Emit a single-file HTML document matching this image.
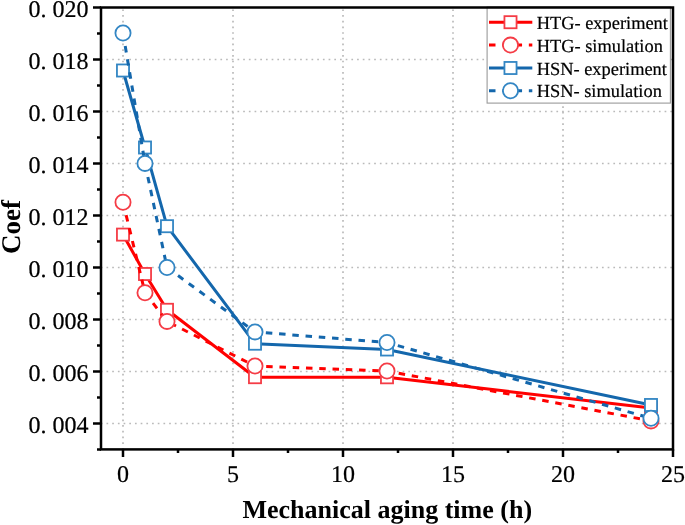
<!DOCTYPE html>
<html><head><meta charset="utf-8"><style>
html,body{margin:0;padding:0;background:#fff;width:685px;height:525px;overflow:hidden}
svg{display:block;text-rendering:geometricPrecision;filter:blur(0.4px)}
text{font-family:"Liberation Serif",serif}
</style></head><body>
<svg width="685" height="525" viewBox="0 0 685 525">
<rect x="0" y="0" width="685" height="525" fill="#fff"/>
<g stroke="#bababa" stroke-width="1.7" stroke-dasharray="1.7 3.995" fill="none"><line x1="100.8" y1="423.50" x2="673.0" y2="423.50"/><line x1="100.8" y1="371.50" x2="673.0" y2="371.50"/><line x1="100.8" y1="319.50" x2="673.0" y2="319.50"/><line x1="100.8" y1="267.50" x2="673.0" y2="267.50"/><line x1="100.8" y1="215.50" x2="673.0" y2="215.50"/><line x1="100.8" y1="163.50" x2="673.0" y2="163.50"/><line x1="100.8" y1="111.50" x2="673.0" y2="111.50"/><line x1="100.8" y1="59.50" x2="673.0" y2="59.50"/><line x1="123.00" y1="449.6" x2="123.00" y2="7.5"/><line x1="233.00" y1="449.6" x2="233.00" y2="7.5"/><line x1="343.00" y1="449.6" x2="343.00" y2="7.5"/><line x1="453.00" y1="449.6" x2="453.00" y2="7.5"/><line x1="563.00" y1="449.6" x2="563.00" y2="7.5"/></g>
<polyline points="123.00,234.60 145.00,274.00 167.00,309.80 255.00,377.20 387.00,377.30 651.00,408.00" fill="none" stroke="#ff0000" stroke-width="3.0" stroke-linejoin="round"/>
<g fill="#fff" stroke="#f53c46" stroke-width="1.8"><rect x="116.95" y="228.55" width="12.1" height="12.1"/><rect x="138.95" y="267.95" width="12.1" height="12.1"/><rect x="160.95" y="303.75" width="12.1" height="12.1"/><rect x="248.95" y="371.15" width="12.1" height="12.1"/><rect x="380.95" y="371.25" width="12.1" height="12.1"/><rect x="644.95" y="401.95" width="12.1" height="12.1"/></g>
<polyline points="123.00,202.30 145.00,292.70 167.00,321.40 255.00,366.00 387.00,371.00 651.00,420.90" fill="none" stroke="#ff0000" stroke-width="3.0" stroke-linejoin="round" stroke-dasharray="6.5 6.78"/>
<g fill="#fff" stroke="#f53c46" stroke-width="1.8"><circle cx="123.00" cy="202.30" r="7.6"/><circle cx="145.00" cy="292.70" r="7.6"/><circle cx="167.00" cy="321.40" r="7.6"/><circle cx="255.00" cy="366.00" r="7.6"/><circle cx="387.00" cy="371.00" r="7.6"/><circle cx="651.00" cy="420.90" r="7.6"/></g>
<polyline points="123.00,70.50 145.00,147.50 167.00,226.20 255.00,343.70 387.00,349.50 651.00,405.00" fill="none" stroke="#1467ac" stroke-width="3.0" stroke-linejoin="round"/>
<g fill="#fff" stroke="#3386c4" stroke-width="1.8"><rect x="116.95" y="64.45" width="12.1" height="12.1"/><rect x="138.95" y="141.45" width="12.1" height="12.1"/><rect x="160.95" y="220.15" width="12.1" height="12.1"/><rect x="248.95" y="337.65" width="12.1" height="12.1"/><rect x="380.95" y="343.45" width="12.1" height="12.1"/><rect x="644.95" y="398.95" width="12.1" height="12.1"/></g>
<polyline points="123.00,33.00 145.00,163.40 167.00,267.50 255.00,331.90 387.00,342.50 651.00,418.30" fill="none" stroke="#1467ac" stroke-width="3.0" stroke-linejoin="round" stroke-dasharray="6.5 6.78"/>
<g fill="#fff" stroke="#3386c4" stroke-width="1.8"><circle cx="123.00" cy="33.00" r="7.6"/><circle cx="145.00" cy="163.40" r="7.6"/><circle cx="167.00" cy="267.50" r="7.6"/><circle cx="255.00" cy="331.90" r="7.6"/><circle cx="387.00" cy="342.50" r="7.6"/><circle cx="651.00" cy="418.30" r="7.6"/></g>
<rect x="487.1" y="7" width="183.3" height="96.1" fill="#fff" stroke="#9a9a9a" stroke-width="1.1"/>
<line x1="489" y1="22.2" x2="532.3" y2="22.2" stroke="#ff0000" stroke-width="3.0"/>
<rect x="504.45" y="16.15" width="12.1" height="12.1" fill="#fff" stroke="#f53c46" stroke-width="1.8"/>
<text x="536.7" y="28.7" font-family="Liberation Serif" font-size="18.4" fill="#000" stroke="#000" stroke-width="0.2">HTG- experiment</text>
<line x1="489" y1="45.1" x2="532.3" y2="45.1" stroke="#ff0000" stroke-width="3.0" stroke-dasharray="6.5 6.78" stroke-dashoffset="0"/>
<circle cx="510.5" cy="45.1" r="7.6" fill="#fff" stroke="#f53c46" stroke-width="1.8"/>
<text x="536.7" y="51.6" font-family="Liberation Serif" font-size="18.4" fill="#000" stroke="#000" stroke-width="0.2">HTG- simulation</text>
<line x1="489" y1="68.0" x2="532.3" y2="68.0" stroke="#1467ac" stroke-width="3.0"/>
<rect x="504.45" y="61.95" width="12.1" height="12.1" fill="#fff" stroke="#3386c4" stroke-width="1.8"/>
<text x="536.7" y="74.5" font-family="Liberation Serif" font-size="18.4" fill="#000" stroke="#000" stroke-width="0.2">HSN- experiment</text>
<line x1="489" y1="90.8" x2="532.3" y2="90.8" stroke="#1467ac" stroke-width="3.0" stroke-dasharray="6.5 6.78" stroke-dashoffset="0"/>
<circle cx="510.5" cy="90.8" r="7.6" fill="#fff" stroke="#3386c4" stroke-width="1.8"/>
<text x="536.7" y="97.3" font-family="Liberation Serif" font-size="18.4" fill="#000" stroke="#000" stroke-width="0.2">HSN- simulation</text>
<g stroke="#000" stroke-width="2.5" fill="none" stroke-linecap="butt">
<rect x="101.0" y="7.5" width="572.0" height="441.9"/>
<line x1="93" y1="7.50" x2="101.0" y2="7.50"/>
<line x1="93" y1="59.50" x2="101.0" y2="59.50"/>
<line x1="93" y1="111.50" x2="101.0" y2="111.50"/>
<line x1="93" y1="163.50" x2="101.0" y2="163.50"/>
<line x1="93" y1="215.50" x2="101.0" y2="215.50"/>
<line x1="93" y1="267.50" x2="101.0" y2="267.50"/>
<line x1="93" y1="319.50" x2="101.0" y2="319.50"/>
<line x1="93" y1="371.50" x2="101.0" y2="371.50"/>
<line x1="93" y1="423.50" x2="101.0" y2="423.50"/>
<line x1="97" y1="33.50" x2="101.0" y2="33.50"/>
<line x1="97" y1="85.50" x2="101.0" y2="85.50"/>
<line x1="97" y1="137.50" x2="101.0" y2="137.50"/>
<line x1="97" y1="189.50" x2="101.0" y2="189.50"/>
<line x1="97" y1="241.50" x2="101.0" y2="241.50"/>
<line x1="97" y1="293.50" x2="101.0" y2="293.50"/>
<line x1="97" y1="345.50" x2="101.0" y2="345.50"/>
<line x1="97" y1="397.50" x2="101.0" y2="397.50"/>
<line x1="97" y1="449.50" x2="101.0" y2="449.50"/>
<line x1="123.00" y1="449.4" x2="123.00" y2="457"/>
<line x1="233.00" y1="449.4" x2="233.00" y2="457"/>
<line x1="343.00" y1="449.4" x2="343.00" y2="457"/>
<line x1="453.00" y1="449.4" x2="453.00" y2="457"/>
<line x1="563.00" y1="449.4" x2="563.00" y2="457"/>
<line x1="673.00" y1="449.4" x2="673.00" y2="457"/>
<line x1="178.00" y1="449.4" x2="178.00" y2="453"/>
<line x1="288.00" y1="449.4" x2="288.00" y2="453"/>
<line x1="398.00" y1="449.4" x2="398.00" y2="453"/>
<line x1="508.00" y1="449.4" x2="508.00" y2="453"/>
<line x1="618.00" y1="449.4" x2="618.00" y2="453"/>
</g>
<g font-family="Liberation Serif" font-size="24" fill="#000" stroke="#000" stroke-width="0.2">
<text x="88.4" y="16.7" text-anchor="end" xml:space="preserve">0. 020</text>
<text x="88.4" y="68.7" text-anchor="end" xml:space="preserve">0. 018</text>
<text x="88.4" y="120.7" text-anchor="end" xml:space="preserve">0. 016</text>
<text x="88.4" y="172.7" text-anchor="end" xml:space="preserve">0. 014</text>
<text x="88.4" y="224.7" text-anchor="end" xml:space="preserve">0. 012</text>
<text x="88.4" y="276.7" text-anchor="end" xml:space="preserve">0. 010</text>
<text x="88.4" y="328.7" text-anchor="end" xml:space="preserve">0. 008</text>
<text x="88.4" y="380.7" text-anchor="end" xml:space="preserve">0. 006</text>
<text x="88.4" y="432.7" text-anchor="end" xml:space="preserve">0. 004</text>
<text x="123.00" y="482.2" text-anchor="middle">0</text>
<text x="233.00" y="482.2" text-anchor="middle">5</text>
<text x="343.00" y="482.2" text-anchor="middle">10</text>
<text x="453.00" y="482.2" text-anchor="middle">15</text>
<text x="563.00" y="482.2" text-anchor="middle">20</text>
<text x="673.00" y="482.2" text-anchor="middle">25</text>
</g>
<text x="387.3" y="518.1" text-anchor="middle" font-family="Liberation Serif" font-weight="bold" font-size="26" fill="#000">Mechanical aging time (h)</text>
<text transform="translate(19.8,227) rotate(-90)" x="0" y="0" text-anchor="middle" font-family="Liberation Serif" font-weight="bold" font-size="27" fill="#000">Coef</text>
</svg>
</body></html>
